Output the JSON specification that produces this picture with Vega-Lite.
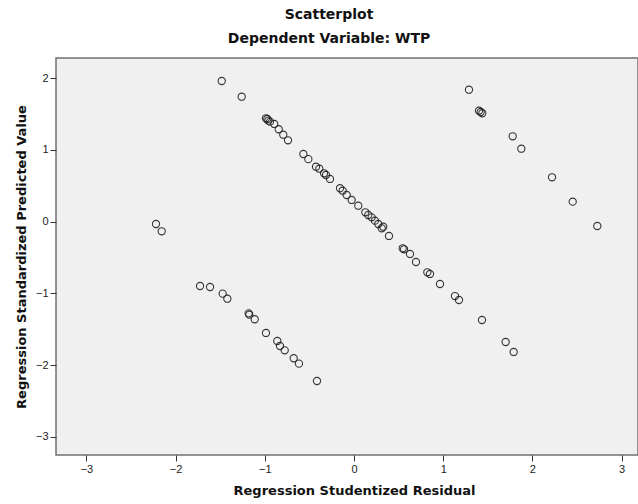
{
  "$schema": "https://vega.github.io/schema/vega-lite/v6.json",
  "width": 582,
  "height": 397,
  "autosize": {"type": "none"},
  "padding": {"left": 56, "top": 58, "right": 0, "bottom": 49},
  "background": "white",
  "title": {
    "text": "Scatterplot",
    "subtitle": "Dependent Variable: WTP",
    "font": "DejaVu Sans",
    "subtitleFont": "DejaVu Sans",
    "fontSize": 14,
    "subtitleFontSize": 14,
    "fontWeight": "bold",
    "subtitleFontWeight": "bold",
    "color": "#111",
    "subtitleColor": "#111",
    "anchor": "middle",
    "frame": "group",
    "offset": 12,
    "subtitlePadding": 10,
    "dx": -18
  },
  "data": {
    "values": [
      {"residual": -1.483, "predicted": 1.962},
      {"residual": -1.259, "predicted": 1.743},
      {"residual": -0.987, "predicted": 1.442},
      {"residual": -0.972, "predicted": 1.432},
      {"residual": -0.961, "predicted": 1.409},
      {"residual": -0.942, "predicted": 1.395},
      {"residual": -0.894, "predicted": 1.363},
      {"residual": -0.844, "predicted": 1.289},
      {"residual": -0.793, "predicted": 1.213},
      {"residual": -0.740, "predicted": 1.135},
      {"residual": -0.568, "predicted": 0.944},
      {"residual": -0.512, "predicted": 0.872},
      {"residual": -0.426, "predicted": 0.767},
      {"residual": -0.389, "predicted": 0.739},
      {"residual": -0.336, "predicted": 0.675},
      {"residual": -0.314, "predicted": 0.651},
      {"residual": -0.269, "predicted": 0.596},
      {"residual": -0.157, "predicted": 0.466},
      {"residual": -0.127, "predicted": 0.432},
      {"residual": -0.082, "predicted": 0.372},
      {"residual": -0.026, "predicted": 0.303},
      {"residual": 0.048, "predicted": 0.223},
      {"residual": 0.127, "predicted": 0.131},
      {"residual": 0.160, "predicted": 0.093},
      {"residual": 0.198, "predicted": 0.061},
      {"residual": 0.235, "predicted": 0.014},
      {"residual": 0.272, "predicted": -0.032},
      {"residual": 0.311, "predicted": -0.092},
      {"residual": 0.328, "predicted": -0.070},
      {"residual": 0.392, "predicted": -0.199},
      {"residual": 0.546, "predicted": -0.371},
      {"residual": 0.561, "predicted": -0.385},
      {"residual": 0.628, "predicted": -0.450},
      {"residual": 0.695, "predicted": -0.562},
      {"residual": 0.822, "predicted": -0.706},
      {"residual": 0.852, "predicted": -0.729},
      {"residual": 0.964, "predicted": -0.869},
      {"residual": 1.132, "predicted": -1.037},
      {"residual": 1.177, "predicted": -1.092},
      {"residual": 1.435, "predicted": -1.371},
      {"residual": 1.700, "predicted": -1.678},
      {"residual": 1.790, "predicted": -1.817},
      {"residual": -1.726, "predicted": -0.897},
      {"residual": -1.614, "predicted": -0.911},
      {"residual": -1.472, "predicted": -1.004},
      {"residual": -1.420, "predicted": -1.074},
      {"residual": -1.181, "predicted": -1.278},
      {"residual": -1.174, "predicted": -1.297},
      {"residual": -1.113, "predicted": -1.361},
      {"residual": -0.987, "predicted": -1.552},
      {"residual": -0.860, "predicted": -1.664},
      {"residual": -0.830, "predicted": -1.734},
      {"residual": -0.777, "predicted": -1.794},
      {"residual": -0.676, "predicted": -1.905},
      {"residual": -0.617, "predicted": -1.980},
      {"residual": -0.415, "predicted": -2.222},
      {"residual": -2.220, "predicted": -0.032},
      {"residual": -2.156, "predicted": -0.134},
      {"residual": 1.289, "predicted": 1.841},
      {"residual": 1.401, "predicted": 1.548},
      {"residual": 1.420, "predicted": 1.530},
      {"residual": 1.438, "predicted": 1.512},
      {"residual": 1.779, "predicted": 1.191},
      {"residual": 1.876, "predicted": 1.018},
      {"residual": 2.220, "predicted": 0.619},
      {"residual": 2.452, "predicted": 0.279},
      {"residual": 2.728, "predicted": -0.060}
    ]
  },
  "mark": {"type": "point", "shape": "circle", "filled": false, "size": 52, "stroke": "#222", "strokeWidth": 1.1, "opacity": 0.9, "clip": true},
  "encoding": {
    "x": {
      "field": "residual",
      "type": "quantitative",
      "scale": {"domain": [-3.341, 3.184], "nice": false, "zero": false},
      "axis": {
        "title": "Regression Studentized Residual",
        "values": [-3, -2, -1, 0, 1, 2, 3],
        "format": "d",
        "titleX": 298,
        "titleY": 35,
        "titleBaseline": "middle",
        "titleAlign": "center"
      }
    },
    "y": {
      "field": "predicted",
      "type": "quantitative",
      "scale": {"domain": [-3.254, 2.283], "nice": false, "zero": false},
      "axis": {
        "title": "Regression Standardized Predicted Value",
        "values": [-3, -2, -1, 0, 1, 2],
        "format": "d",
        "titleX": -35,
        "titleY": 198.5,
        "titleAngle": -90,
        "titleBaseline": "middle",
        "titleAlign": "center"
      }
    }
  },
  "config": {
    "view": {"fill": "#f0f0f0", "stroke": "#707070", "strokeWidth": 1.5},
    "axis": {
      "grid": false,
      "domain": false,
      "ticks": true,
      "tickSize": 6,
      "tickColor": "#333",
      "tickWidth": 1,
      "labelFont": "Liberation Sans",
      "labelFontSize": 11,
      "labelColor": "#222",
      "labelPadding": 2,
      "titleFont": "DejaVu Sans",
      "titleFontSize": 13,
      "titleFontWeight": "bold",
      "titleColor": "#111"
    }
  }
}
